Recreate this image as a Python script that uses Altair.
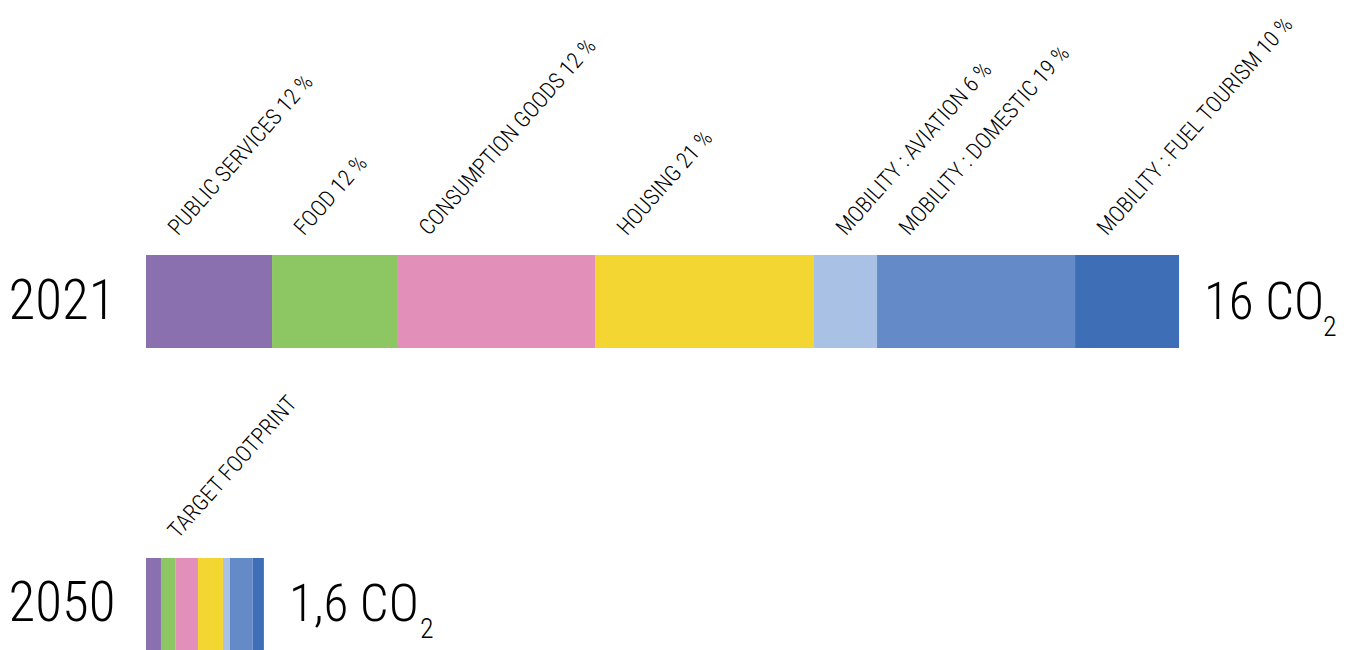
import altair as alt
import pandas as pd
import math

categories = ["Public services", "Food", "Consumption goods", "Housing",
              "Mobility : aviation", "Mobility : domestic", "Mobility : fuel tourism"]
colors = ["#8B70B0", "#8CC764", "#E290BA", "#F4D633", "#A9C1E5", "#648AC8", "#3E6EB5"]
labels_2021 = ["PUBLIC SERVICES 12 %", "FOOD 12 %", "CONSUMPTION GOODS 12 %", "HOUSING 21 %",
               "MOBILITY : AVIATION 6 %", "MOBILITY : DOMESTIC 19 %", "MOBILITY : FUEL TOURISM 10 %"]
values_2021 = [1.952, 1.936, 3.067, 3.392, 0.976, 3.067, 1.611]
values_2050 = [0.232, 0.228, 0.345, 0.387, 0.108, 0.351, 0.175]
years = ["2021", "2050"]
totals_text = ["16 CO", "1,6 CO"]
label_2050 = "TARGET FOOTPRINT"

FONT = "Roboto Condensed, Liberation Sans Narrow, Roboto"

rows = []
for year, vals in zip(years, [values_2021, values_2050]):
    start = 0.0
    for i, (c, v) in enumerate(zip(categories, vals)):
        lab = labels_2021[i] if year == "2021" else (label_2050 if i == 0 else "")
        rows.append({"year": year, "category": c, "start": start, "end": start + v, "label": lab})
        start += v
df = pd.DataFrame(rows)
tot = pd.DataFrame({"year": years,
                    "total": [sum(values_2021), sum(values_2050)],
                    "text": totals_text})

xscale = alt.Scale(domain=[0, 1204 / 64.5625], nice=False, zero=False)
yscale = alt.Scale(domain=years, range=[255, 651], paddingInner=0.693, paddingOuter=0)

# label offset in screen space, converted to the rotated text frame
ANGLE = -48.5
ox, oy = 32, -65
th = math.radians(ANGLE)
ldx = ox * math.cos(th) + oy * math.sin(th)
ldy = -ox * math.sin(th) + oy * math.cos(th)

bars = alt.Chart(df).mark_bar(strokeWidth=0).encode(
    x=alt.X("start:Q", scale=xscale, axis=None),
    x2="end:Q",
    y=alt.Y("year:N", scale=yscale, title=None,
            axis=alt.Axis(domain=False, ticks=False, labelFont=FONT, labelFontSize=55,
                          labelFontWeight=300,
                          labelColor="#000", labelPadding=31, labelBaseline="alphabetic",
                          labelOffset=17, labelAngle=0)),
    color=alt.Color("category:N", scale=alt.Scale(domain=categories, range=colors), legend=None),
)

cat_labels = alt.Chart(df).transform_filter("datum.label != ''").mark_text(
    align="left", baseline="alphabetic", angle=360 + ANGLE, font=FONT, fontSize=22.5,
    fontWeight=300, color="#000", dx=ldx, dy=ldy
).encode(
    x=alt.X("start:Q", scale=xscale),
    y=alt.Y("year:N", scale=yscale),
    text="label:N",
)

tot_text = alt.Chart(tot).mark_text(
    align="left", baseline="alphabetic", font=FONT, fontSize=51, fontWeight=300,
    color="#000", dx=25, dy=17
).encode(
    x=alt.X("total:Q", scale=xscale),
    y=alt.Y("year:N", scale=yscale),
    text="text:N",
)

subs = []
for year, off in zip(years, [144, 156]):
    subs.append(alt.Chart(tot).transform_filter(f"datum.year == '{year}'").mark_text(
        align="left", baseline="alphabetic", font=FONT, fontSize=28, fontWeight=300,
        color="#000", dx=off, dy=34
    ).encode(
        x=alt.X("total:Q", scale=xscale),
        y=alt.Y("year:N", scale=yscale),
        text=alt.value("2"),
    ))

chart = alt.layer(bars, cat_labels, tot_text, *subs).properties(
    width=1204, height=650,
    autosize=alt.AutoSizeParams(type="none"),
    padding={"left": 146, "top": 0, "right": 0, "bottom": 0},
    background="white",
).configure_view(stroke=None)

chart.save("out.html", embed_options={"renderer": "svg", "actions": False})
